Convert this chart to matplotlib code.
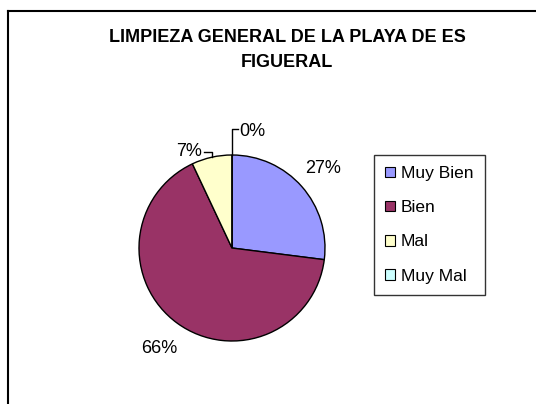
import numpy as np
import matplotlib.pyplot as plt
from matplotlib.patches import Patch
from matplotlib.lines import Line2D

plt.rcParams['font.family'] = ['Liberation Sans', 'DejaVu Sans']

# datos del grafico
categorias = ['Muy Bien', 'Bien', 'Mal', 'Muy Mal']
porcentajes = [27, 66, 7, 0]
colores = ['#9999FF', '#993366', '#FFFFCC', '#CCFFFF']
titulo = 'LIMPIEZA GENERAL DE LA PLAYA DE ES\nFIGUERAL'

W, H = 536, 404
fig = plt.figure(figsize=(W / 100, H / 100), dpi=100)

# marco exterior (cortado a la derecha y abajo)
fig.add_artist(Line2D([8 / W, 1], [1 - 11 / H, 1 - 11 / H], color='black', lw=1.5,
                      transform=fig.transFigure))
fig.add_artist(Line2D([8 / W, 8 / W], [0, 1 - 11 / H], color='black', lw=1.5,
                      transform=fig.transFigure))

fig.text(287 / W, 1 - 50 / H, titulo, ha='center', va='center', fontsize=13,
         fontweight='bold', linespacing=1.55)

# pastel
cx, cy, r = 232, 248, 93
ax = fig.add_axes([(cx - r) / W, (H - cy - r) / H, 2 * r / W, 2 * r / H])
wedges, _ = ax.pie(porcentajes, colors=colores, startangle=90, counterclock=False,
                   wedgeprops=dict(edgecolor='black', linewidth=1))
ax.set_xlim(-1, 1)
ax.set_ylim(-1, 1)
ax.set_aspect('equal')
for sp_ in ax.spines.values():
    sp_.set_visible(False)

def mid_angle(w):
    return np.deg2rad((w.theta1 + w.theta2) / 2)

fs = 13

# etiquetas de los sectores grandes
for w, p in zip(wedges[:2], porcentajes[:2]):
    a = mid_angle(w)
    rr = 1.3 if p < 50 else 1.34
    ax.text(rr * np.cos(a), rr * np.sin(a), f'{p}%', ha='center', va='center',
            fontsize=fs, clip_on=False)

# etiqueta "Mal" con linea guia
a = mid_angle(wedges[2])
x0, y0 = np.cos(a), np.sin(a)
ax.plot([x0, x0, x0 - 0.08], [y0, 1.03, 1.03], color='black', lw=1, clip_on=False)
ax.text(x0 - 0.1, 1.04, f'{porcentajes[2]}%', ha='right', va='center', fontsize=fs,
        clip_on=False)

# etiqueta "Muy Mal" con linea guia
a = mid_angle(wedges[3])
x0, y0 = np.cos(a), np.sin(a)
ax.plot([x0, x0, x0 + 0.06], [y0, 1.28, 1.28], color='black', lw=1, clip_on=False)
ax.text(x0 + 0.08, 1.25, f'{porcentajes[3]}%', ha='left', va='center', fontsize=fs,
        clip_on=False)

handles = [Patch(facecolor=c, edgecolor='black', linewidth=0.8) for c in colores]
leg = fig.legend(handles, categorias, loc='upper left',
                 bbox_to_anchor=(374 / W, 1 - 155 / H), fontsize=12.5,
                 frameon=True, fancybox=False, edgecolor='black',
                 handlelength=0.55, handleheight=0.55, handletextpad=0.35,
                 labelspacing=1.1, borderpad=0.65, borderaxespad=0)
leg.get_frame().set_linewidth(1)

fig.savefig('out.png', dpi=100)
